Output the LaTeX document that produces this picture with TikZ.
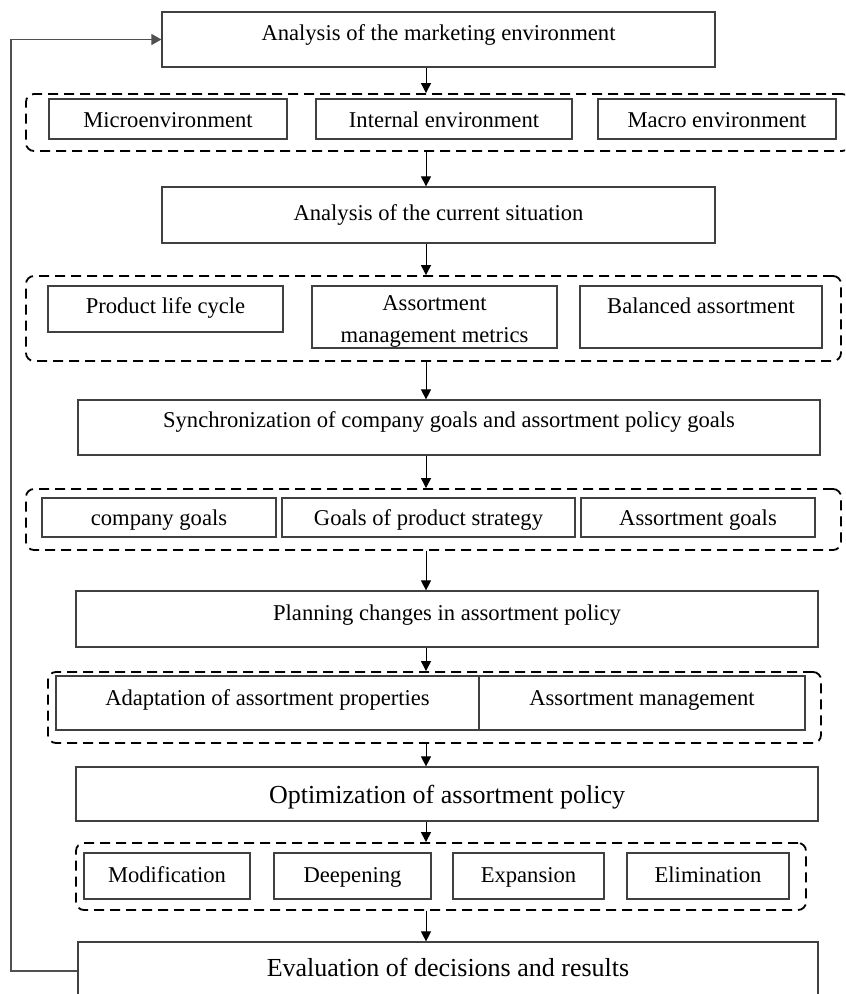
\documentclass[tikz,border=0pt]{standalone}
\usepackage{fontspec}
\setmainfont{Liberation Serif}
\usepackage{tikz}
\usetikzlibrary{arrows.meta,positioning}
\definecolor{boxline}{HTML}{404040}
\definecolor{loopline}{HTML}{505050}

\begin{document}
\begin{tikzpicture}[
    x=0.5pt, y=-0.5pt,
    boxsize/.style 2 args={minimum width={#1*0.5pt}, minimum height={#2*0.5pt}},
    lift/.style={text height=#1, text depth=5pt},
    mainbox/.style={rectangle, draw=boxline, line width=0.6pt, inner sep=0pt, text height=8pt, text depth=2.5pt, font=\fontsize{11.3}{13.5}\selectfont},
    bigbox/.style={mainbox, font=\fontsize{13}{15.5}\selectfont},
    group/.style={rectangle, draw=black, line width=0.9pt, dash pattern=on 5pt off 3pt, rounded corners=4pt, inner sep=0pt},
    arrow/.style={-{Triangle[length=5pt,width=5pt]}, line width=0.5pt, black},
    arrow2/.style={-{Triangle[length=5pt,width=5.5pt]}, line width=0.6pt, loopline}
]
    \useasboundingbox (0,0) rectangle (845,994);
    \clip (0,0) rectangle (845,994);

    \node[mainbox, boxsize={553}{55}, lift=6.5pt] (ana) at (438.5,39.5) {Analysis of the marketing environment};

    \node[group, boxsize={824}{57}] (env) at (438,122.5) {};
    \node[mainbox, boxsize={238}{40}, lift=14pt] (micro) at (168,119) {Microenvironment};
    \node[mainbox, boxsize={256}{40}, lift=14pt] (internal) at (444,119) {Internal environment};
    \node[mainbox, boxsize={238}{40}, lift=14pt] (macro) at (717,119) {Macro environment};

    \node[mainbox, boxsize={553}{56}, lift=11pt] (current) at (438.5,215) {Analysis of the current situation};

    \node[group, boxsize={815}{85}] (state) at (433.5,318.5) {};
    \node[mainbox, boxsize={235}{46}, lift=10pt] (cycle) at (165.5,309) {Product life cycle};
    \node[mainbox, boxsize={245}{62}, text height=26pt, text depth=0pt, align=center, font=\fontsize{11.3}{16.5}\selectfont] (metrics) at (434.5,317) {Assortment\\management metrics};
    \node[mainbox, boxsize={242}{62}, lift=2pt] (balanced) at (701,317) {Balanced assortment};

    \node[mainbox, boxsize={742}{55}, lift=5pt] (sync) at (449,427.5) {Synchronization of company goals and assortment policy goals};

    \node[group, boxsize={815}{61}] (goals) at (433.5,519.5) {};
    \node[mainbox, boxsize={234}{39}, text height=12.5pt, text depth=4.5pt] (company) at (159,517.5) {company goals};
    \node[mainbox, boxsize={293}{39}, text height=12.5pt, text depth=4.5pt] (strategy) at (428.5,517.5) {Goals of product strategy};
    \node[mainbox, boxsize={234}{39}, text height=12.5pt, text depth=4.5pt] (assortgoals) at (698,517.5) {Assortment goals};

    \node[mainbox, boxsize={742}{56}, lift=6.5pt] (plan) at (447,619) {Planning changes in assortment policy};

    \node[group, boxsize={773}{71}] (changes) at (434.5,707.5) {};
    \node[mainbox, boxsize={423}{54}, lift=7pt] (adapt) at (267.5,703) {Adaptation of assortment properties};
    \node[mainbox, boxsize={326}{54}, lift=7pt] (manage) at (642,703) {Assortment management};

    \node[bigbox, boxsize={742}{54}, lift=14pt] (optim) at (447,794) {Optimization of assortment policy};

    \node[group, boxsize={730}{67}] (actions) at (441,876.5) {};
    \node[mainbox, boxsize={166}{46}, lift=11pt] (modif) at (167,876) {Modification};
    \node[mainbox, boxsize={157}{46}, lift=11pt] (deepen) at (352.5,876) {Deepening};
    \node[mainbox, boxsize={151}{46}, lift=11pt] (expand) at (528.5,876) {Expansion};
    \node[mainbox, boxsize={162}{46}, lift=11pt] (elim) at (708,876) {Elimination};

    \node[bigbox, boxsize={740}{58}, lift=10pt] (eval) at (448,971) {Evaluation of decisions and results};

    \coordinate (col) at (426,0);
    \coordinate (back) at (11,0);

    \draw[arrow] (ana.south -| col) -- (env.north -| col);
    \draw[arrow] (env.south -| col) -- (current.north -| col);
    \draw[arrow] (current.south -| col) -- (state.north -| col);
    \draw[arrow] (state.south -| col) -- (sync.north -| col);
    \draw[arrow] (sync.south -| col) -- (goals.north -| col);
    \draw[arrow] (goals.south -| col) -- (plan.north -| col);
    \draw[arrow] (plan.south -| col) -- (changes.north -| col);
    \draw[arrow] (changes.south -| col) -- (optim.north -| col);
    \draw[arrow] (optim.south -| col) -- (actions.north -| col);
    \draw[arrow] (actions.south -| col) -- (eval.north -| col);

    \draw[arrow2] (eval.west) -- (eval.west -| back) |- (ana.west);
\end{tikzpicture}
\end{document}
